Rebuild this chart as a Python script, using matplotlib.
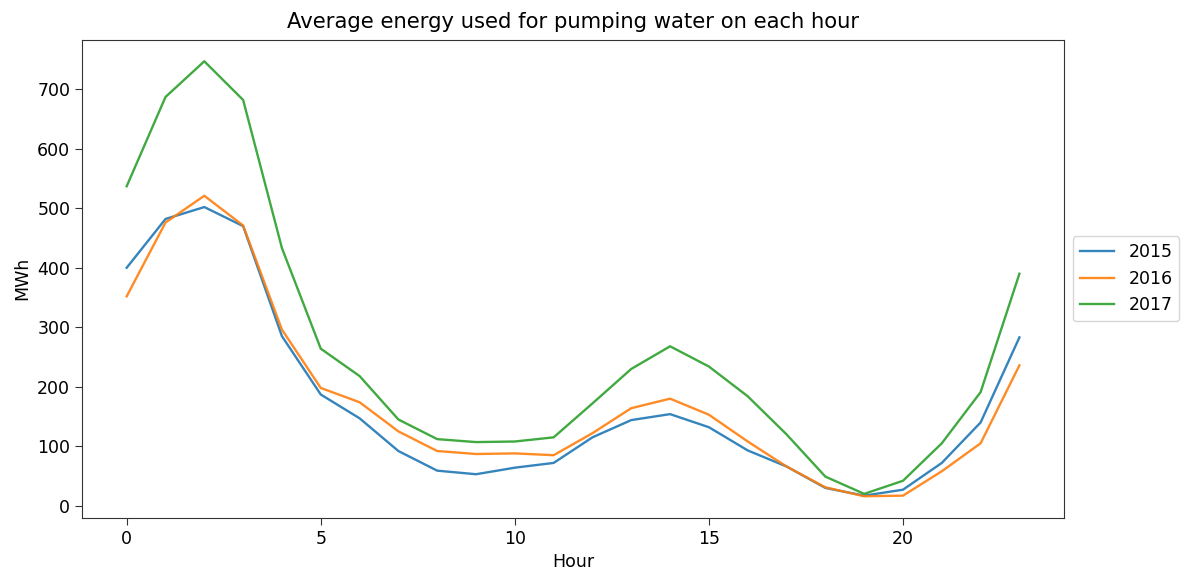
import matplotlib
matplotlib.use("Agg")
import matplotlib.pyplot as plt

hours = list(range(24))
years = ["2015", "2016", "2017"]

energy_2015 = [400, 482, 502, 470, 285, 187, 147, 92, 59, 53, 64, 72,
               115, 144, 154, 132, 93, 66, 30, 17, 27, 72, 140, 283]
energy_2016 = [352, 476, 521, 471, 296, 198, 174, 125, 92, 87, 88, 85,
               122, 164, 180, 153, 108, 66, 31, 16, 17, 58, 105, 236]
energy_2017 = [537, 687, 747, 682, 433, 264, 218, 145, 112, 107, 108, 115,
               172, 230, 268, 234, 184, 120, 49, 20, 42, 105, 191, 390]

series = [energy_2015, energy_2016, energy_2017]
colors = ["#1f77b4", "#ff7f0e", "#2ca02c"]

fig = plt.figure(figsize=(11.84, 5.73), dpi=100)
ax = fig.add_axes([0.0693, 0.096, 0.8294, 0.835])

for label, values, color in zip(years, series, colors):
    ax.plot(hours, values, color=color, linewidth=1.7, alpha=0.9, label=label)

ax.set_xticks([0, 5, 10, 15, 20])
ax.set_yticks([0, 100, 200, 300, 400, 500, 600, 700])
ax.tick_params(labelsize=12.5, length=5, color="#333333")
for spine in ax.spines.values():
    spine.set_color("#333333")
ax.set_xlabel("Hour", fontsize=12.5)
ax.set_ylabel("MWh", fontsize=12.5)
ax.set_title("Average energy used for pumping water on each hour",
             fontsize=15.2, pad=8)
ax.legend(loc="center left", bbox_to_anchor=(1.0, 0.5), fontsize=12.5)

fig.savefig("out.png", dpi=100)
